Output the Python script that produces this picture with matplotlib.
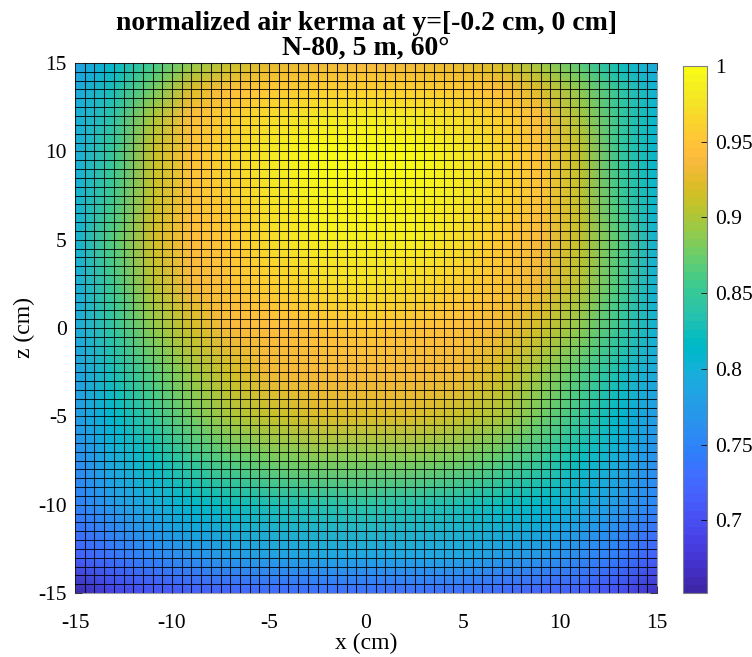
import numpy as np
import matplotlib
matplotlib.use("Agg")
import matplotlib.pyplot as plt
from matplotlib.colors import ListedColormap, Normalize
from matplotlib.ticker import MultipleLocator, FuncFormatter

# ---- data ----
x_nodes = [-15, -13, -11, -9, -7, -5, -2.5, 0, 2.5, 5, 7, 9, 11, 13, 15]
z_nodes = [-15, -13, -10, -7.5, -5, -2.5, 0, 2.5, 5, 7.5, 10, 12, 13.5, 15]

row_zm15 = [0.655, 0.690, 0.705, 0.715, 0.720, 0.725, 0.730, 0.733, 0.733, 0.730, 0.727, 0.720, 0.713, 0.700, 0.665]
row_zm13 = [0.712, 0.738, 0.752, 0.762, 0.772, 0.778, 0.783, 0.787, 0.787, 0.783, 0.777, 0.767, 0.757, 0.742, 0.717]
row_zm10 = [0.745, 0.772, 0.795, 0.810, 0.822, 0.830, 0.836, 0.840, 0.836, 0.830, 0.822, 0.810, 0.795, 0.775, 0.750]
row_zm75 = [0.758, 0.795, 0.825, 0.850, 0.865, 0.875, 0.882, 0.885, 0.882, 0.875, 0.865, 0.850, 0.825, 0.795, 0.765]
row_zm5 = [0.772, 0.815, 0.850, 0.878, 0.898, 0.912, 0.920, 0.922, 0.920, 0.912, 0.898, 0.878, 0.850, 0.815, 0.776]
row_zm25 = [0.781, 0.828, 0.865, 0.895, 0.915, 0.930, 0.937, 0.940, 0.937, 0.930, 0.915, 0.895, 0.868, 0.830, 0.788]
row_z0 = [0.790, 0.845, 0.890, 0.918, 0.935, 0.945, 0.950, 0.952, 0.950, 0.945, 0.930, 0.915, 0.890, 0.850, 0.800]
row_z25 = [0.795, 0.858, 0.905, 0.935, 0.948, 0.957, 0.968, 0.973, 0.968, 0.957, 0.948, 0.932, 0.905, 0.860, 0.800]
row_z5 = [0.800, 0.868, 0.915, 0.945, 0.952, 0.968, 0.984, 0.988, 0.984, 0.970, 0.952, 0.940, 0.910, 0.865, 0.800]
row_z75 = [0.800, 0.855, 0.912, 0.946, 0.958, 0.978, 0.992, 0.996, 0.992, 0.982, 0.962, 0.946, 0.912, 0.858, 0.805]
row_z10 = [0.798, 0.848, 0.910, 0.946, 0.962, 0.982, 0.996, 1.000, 0.996, 0.982, 0.962, 0.946, 0.910, 0.852, 0.805]
row_z12 = [0.796, 0.840, 0.900, 0.942, 0.958, 0.970, 0.980, 0.984, 0.980, 0.970, 0.958, 0.942, 0.902, 0.848, 0.805]
row_z135 = [0.790, 0.830, 0.880, 0.922, 0.942, 0.952, 0.958, 0.960, 0.958, 0.952, 0.942, 0.922, 0.887, 0.843, 0.800]
row_z15 = [0.778, 0.815, 0.855, 0.890, 0.912, 0.925, 0.933, 0.937, 0.933, 0.927, 0.914, 0.893, 0.865, 0.825, 0.788]

kerma = [row_zm15, row_zm13, row_zm10, row_zm75, row_zm5, row_zm25, row_z0,
         row_z25, row_z5, row_z75, row_z10, row_z12, row_z135, row_z15]

c_min, c_max = 0.652, 1.0
cbar_ticks = [0.7, 0.75, 0.8, 0.85, 0.9, 0.95, 1.0]
axis_ticks = [-15, -10, -5, 0, 5, 10, 15]

title_text = "normalized air kerma at y=[-0.2 cm, 0 cm]\nN-80, 5 m, 60\u00b0"

# ---- MATLAB parula colormap ----
parula_data = [
    [0.2422, 0.1504, 0.6603], [0.2504, 0.1650, 0.7076], [0.2578, 0.1818, 0.7511], [0.2647, 0.1978, 0.7952],
    [0.2706, 0.2147, 0.8364], [0.2751, 0.2342, 0.8710], [0.2783, 0.2559, 0.8991], [0.2803, 0.2782, 0.9221],
    [0.2813, 0.3006, 0.9414], [0.2810, 0.3228, 0.9579], [0.2795, 0.3447, 0.9717], [0.2760, 0.3667, 0.9829],
    [0.2699, 0.3892, 0.9906], [0.2602, 0.4123, 0.9952], [0.2440, 0.4358, 0.9988], [0.2206, 0.4603, 0.9973],
    [0.1963, 0.4847, 0.9892], [0.1834, 0.5074, 0.9798], [0.1786, 0.5289, 0.9682], [0.1764, 0.5499, 0.9520],
    [0.1687, 0.5703, 0.9359], [0.1540, 0.5902, 0.9218], [0.1460, 0.6091, 0.9079], [0.1380, 0.6276, 0.8973],
    [0.1248, 0.6459, 0.8883], [0.1113, 0.6635, 0.8763], [0.0952, 0.6798, 0.8598], [0.0689, 0.6948, 0.8394],
    [0.0297, 0.7082, 0.8163], [0.0036, 0.7203, 0.7917], [0.0067, 0.7312, 0.7660], [0.0433, 0.7411, 0.7394],
    [0.0964, 0.7500, 0.7120], [0.1408, 0.7584, 0.6842], [0.1717, 0.7670, 0.6554], [0.1938, 0.7758, 0.6251],
    [0.2161, 0.7843, 0.5923], [0.2470, 0.7918, 0.5567], [0.2906, 0.7973, 0.5188], [0.3406, 0.8008, 0.4789],
    [0.3909, 0.8029, 0.4354], [0.4456, 0.8024, 0.3909], [0.5044, 0.7993, 0.3480], [0.5616, 0.7942, 0.3045],
    [0.6174, 0.7876, 0.2612], [0.6720, 0.7793, 0.2227], [0.7242, 0.7698, 0.1910], [0.7738, 0.7598, 0.1646],
    [0.8203, 0.7498, 0.1535], [0.8634, 0.7406, 0.1596], [0.9035, 0.7330, 0.1774], [0.9393, 0.7288, 0.2100],
    [0.9728, 0.7298, 0.2394], [0.9956, 0.7434, 0.2371], [0.9970, 0.7659, 0.2199], [0.9952, 0.7893, 0.2028],
    [0.9892, 0.8136, 0.1885], [0.9786, 0.8386, 0.1766], [0.9676, 0.8639, 0.1643], [0.9610, 0.8890, 0.1537],
    [0.9597, 0.9135, 0.1423], [0.9628, 0.9373, 0.1265], [0.9691, 0.9606, 0.1064], [0.9769, 0.9839, 0.0805]]
parula = ListedColormap(parula_data, name="parula").resampled(256)

plt.rcParams["font.family"] = ["Liberation Serif", "DejaVu Serif"]
plt.rcParams["axes.unicode_minus"] = False

fig = plt.figure(figsize=(7.52, 6.57), dpi=100)
ax = fig.add_axes([75 / 752, 64 / 657, 582 / 752, 530 / 657])
cax = fig.add_axes([683 / 752, 64 / 657, 24 / 752, 527 / 657])

norm = Normalize(vmin=c_min, vmax=c_max)
mesh = ax.pcolormesh(np.array(x_nodes), np.array(z_nodes), np.array(kerma),
                     shading="gouraud", cmap=parula, norm=norm, zorder=1)

ax.set_xlim(-15, 15)
ax.set_ylim(-15, 15)
ax.set_xticks(axis_ticks)
ax.set_yticks(axis_ticks)
ax.xaxis.set_minor_locator(MultipleLocator(0.5))
ax.yaxis.set_minor_locator(MultipleLocator(0.5))
ax.grid(which="both", color="black", linewidth=0.75, alpha=0.85, zorder=2)
ax.set_axisbelow(False)
ax.tick_params(which="major", direction="in", top=True, right=True, length=5,
               width=0.6, color="#262626", labelsize=15.5, pad=6)
ax.tick_params(axis="x", which="major", pad=15)
ax.tick_params(which="minor", length=0)
for s in ax.spines.values():
    s.set_color("#a0a0a0")
    s.set_linewidth(0.8)
ax.set_xlabel("x (cm)", fontsize=17, labelpad=0)
ax.set_ylabel("z (cm)", fontsize=17, labelpad=2)
ax.set_title(title_text, fontsize=20, fontweight="bold", linespacing=1.0, pad=6)

cb = fig.colorbar(mesh, cax=cax)
cb.set_ticks(cbar_ticks)
cb.ax.yaxis.set_major_formatter(FuncFormatter(lambda v, p: "%g" % v))
cb.ax.tick_params(direction="in", length=4, width=0.6, labelsize=15.5, pad=6)
cb.outline.set_edgecolor("#808080")
cb.outline.set_linewidth(0.8)

fig.savefig("out.png", dpi=100)
